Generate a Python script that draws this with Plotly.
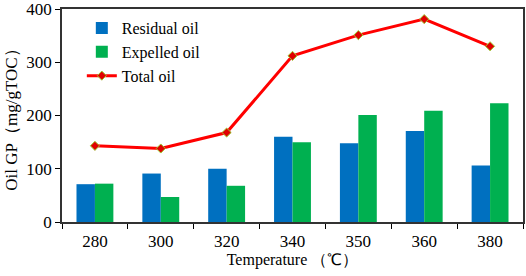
import plotly.graph_objects as go

categories = ["280", "300", "320", "340", "350", "360", "380"]
residual_oil = [71, 91, 100, 160, 148, 171, 106]
expelled_oil = [72, 47, 68, 150, 201, 209, 223]
total_oil = [143, 138, 168, 312, 351, 381, 330]

font = "Liberation Serif"

fig = go.Figure()
fig.add_trace(go.Bar(x=categories, y=residual_oil, name="Residual oil",
                     marker=dict(color="#0070C0", line=dict(width=0))))
fig.add_trace(go.Bar(x=categories, y=expelled_oil, name="Expelled oil",
                     marker=dict(color="#00B050", line=dict(width=0))))
fig.add_trace(go.Scatter(x=categories, y=total_oil, name="Total oil", mode="lines+markers",
                         line=dict(color="#FF0000", width=3),
                         marker=dict(symbol="diamond", size=7, color="#E00000",
                                     line=dict(color="#9ACD32", width=1))))

fig.update_layout(
    width=526, height=276,
    margin=dict(l=62, r=3, t=9, b=54, autoexpand=False),
    paper_bgcolor="white", plot_bgcolor="white",
    barmode="group", bargap=0.44, bargroupgap=0,
    font=dict(family=font, size=17, color="black"),
    legend=dict(x=0.043, y=0.99, xanchor="left", yanchor="top",
                bgcolor="rgba(0,0,0,0)", font=dict(family=font, size=16),
                tracegroupgap=0, itemwidth=30),
    showlegend=True,
)
fig.update_xaxes(
    type="category", tickson="boundaries", ticks="outside", ticklen=5,
    tickcolor="black", showline=True, linecolor="#333333", linewidth=1.5,
    mirror=True, showgrid=False, automargin=False, ticklabelstandoff=3,
    tickfont=dict(family=font, size=17),
    title=dict(text="Temperature （℃）", font=dict(family=font, size=16), standoff=3),
)
fig.update_yaxes(
    range=[0, 400], dtick=100, ticks="outside", ticklen=5, tickcolor="black",
    showline=True, linecolor="#333333", linewidth=1.5, mirror=True,
    showgrid=False, zeroline=False, automargin=False, ticklabeloverflow="allow",
    tickfont=dict(family=font, size=17),
    title=dict(text="Oil GP（mg/gTOC）", font=dict(family=font, size=17), standoff=4),
)

fig.write_html("out.html", config={"displayModeBar": False},
               post_script="document.body.style.margin='0';document.body.style.overflow='hidden';")
